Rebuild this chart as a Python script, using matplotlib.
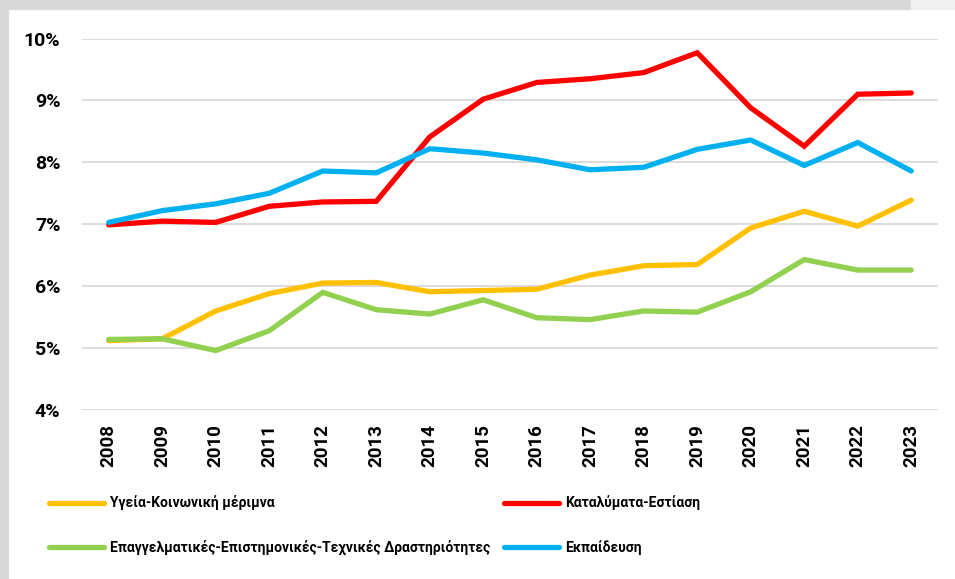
import matplotlib
matplotlib.use("Agg")
import matplotlib.pyplot as plt
from matplotlib.patches import Rectangle

years = ["2008", "2009", "2010", "2011", "2012", "2013", "2014", "2015",
         "2016", "2017", "2018", "2019", "2020", "2021", "2022", "2023"]

health = [5.12, 5.15, 5.60, 5.88, 6.05, 6.06, 5.91, 5.93, 5.95, 6.18, 6.33, 6.35, 6.94, 7.21, 6.97, 7.39]
hotels = [6.99, 7.05, 7.03, 7.29, 7.36, 7.37, 8.41, 9.02, 9.29, 9.35, 9.45, 9.77, 8.88, 8.26, 9.10, 9.12]
professional = [5.14, 5.15, 4.96, 5.28, 5.90, 5.62, 5.55, 5.78, 5.49, 5.46, 5.60, 5.58, 5.91, 6.43, 6.26, 6.26]
education = [7.03, 7.22, 7.33, 7.50, 7.86, 7.83, 8.22, 8.15, 8.04, 7.88, 7.92, 8.21, 8.36, 7.95, 8.32, 7.86]

labels = ["Υγεία-Κοινωνική μέριμνα", "Καταλύματα-Εστίαση",
          "Επαγγελματικές-Επιστημονικές-Τεχνικές Δραστηριότητες", "Εκπαίδευση"]
colors = ["#FFC000", "#FF0000", "#92D050", "#00B0F0"]
yticks = [4, 5, 6, 7, 8, 9, 10]

plt.rcParams['font.family'] = ['Roboto', 'DejaVu Sans']

W, H = 955, 579
fig = plt.figure(figsize=(W / 100, H / 100), dpi=100)
fig.patch.set_facecolor("white")
# grey frame strips
fig.patches.append(Rectangle((0, 0), 8 / W, 1, transform=fig.transFigure, color="#d9d9d9", zorder=0))
fig.patches.append(Rectangle((0, 1 - 9 / H), 911 / W, 9 / H, transform=fig.transFigure, color="#d9d9d9", zorder=0))
fig.patches.append(Rectangle((911 / W, 1 - 9 / H), 1 - 911 / W, 9 / H, transform=fig.transFigure, color="#f0f0f0", zorder=0))

left, right = 82 / W, 938 / W
bottom, top = 1 - 410 / H, 1 - 38.5 / H
ax = fig.add_axes([left, bottom, right - left, top - bottom])

x = list(range(len(years)))
series = [health, hotels, professional, education]
handles = []
for s, c, lab in zip(series, colors, labels):
    h, = ax.plot(x, s, color=c, lw=3.8, label=lab, solid_capstyle="round",
                 solid_joinstyle="miter", zorder=3)
    handles.append(h)

ax.set_xlim(-0.5, len(years) - 0.5)
ax.set_ylim(4, 10)
ax.set_yticks(yticks)
ax.set_yticklabels([f"{v}%" for v in yticks], fontsize=14, fontweight="bold")
ax.set_xticks(x)
ax.set_xticklabels(years, rotation=90, fontsize=13.5, fontweight="bold")
ax.tick_params(axis="both", length=0)
ax.tick_params(axis="y", pad=15.5)
ax.tick_params(axis="x", pad=10)
ax.grid(axis="y", color="#d9d9d9", lw=1.3)
ax.set_axisbelow(True)
for sp in ax.spines.values():
    sp.set_visible(False)

order = [0, 2, 1, 3]
leg = fig.legend([handles[i] for i in order], [labels[i] for i in order],
                 ncol=2, loc="upper left", bbox_to_anchor=(36 / W, 1 - 483 / H),
                 frameon=False, handlelength=4.0, handletextpad=0.4,
                 columnspacing=1.0, labelspacing=2.12,
                 prop={"family": "Roboto", "weight": "bold", "size": 10})

fig.savefig("out.png", dpi=100, facecolor=fig.get_facecolor())
